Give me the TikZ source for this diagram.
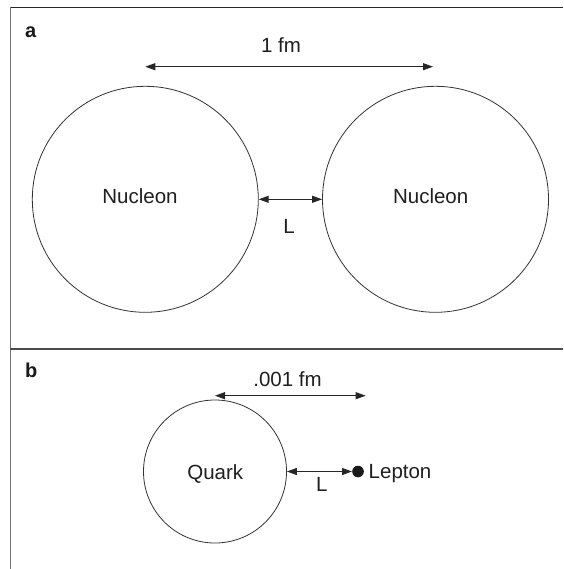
\documentclass[tikz,border=0pt]{standalone}
\usepackage{fontspec}
\setmainfont{Liberation Sans}
\usetikzlibrary{arrows.meta}
\begin{document}
\begin{tikzpicture}[x=1pt,y=-1pt,
  txt/.style={inner sep=0pt, text=black!88, font=\fontsize{20.5}{24}\selectfont},
  paneltag/.style={inner sep=0pt, text=black!90, font=\fontsize{20}{24}\selectfont\bfseries},
  ball/.style={circle, draw=black!80, line width=0.8pt, inner sep=0pt},
  dim/.style={draw=black!85, line width=1pt, {Triangle[length=10pt,width=7pt]}-{Triangle[length=10pt,width=7pt]}}
]
\useasboundingbox (0,0) rectangle (563,569);
\fill[white] (0,0) rectangle (563,569);
% frame
\coordinate (tl) at (10,7.3);
\coordinate (tr) at (563,7.3);
\coordinate (bl) at (10,569);
\coordinate (ml) at (10,349);
\coordinate (mr) at (563,349);
\draw[black!85, line width=1.3pt] (tl) -- (tr);
\draw[black!55, line width=1pt] (tl) -- (bl);
\draw[black!70, line width=1.2pt] (ml) -- (mr);
% panel tags
\node[paneltag, anchor=base west] (taga) at (25,37.3) {a};
\node[paneltag, anchor=base west] (tagb) at (25,377.7) {b};
% panel a
\node[ball, minimum size=226pt] (n1) at (145.3,199.3) {};
\node[ball, minimum size=226pt] (n2) at (435.5,199.3) {};
\node[txt, anchor=base] (n1t) at (140,204) {Nucleon};
\node[txt, anchor=base] (n2t) at (430.7,204) {Nucleon};
\coordinate (fa) at (145.3,66.7);
\coordinate (fb) at (433,66.7);
\draw[dim] (fa) -- (fb);
\node[txt, anchor=base] (fm) at (281,52.7) {1 fm};
\draw[dim] (n1.east) -- (n2.west);
\node[txt, anchor=base] (La) at (289,233.3) {L};
% panel b
\node[ball, minimum size=143pt] (q) at (215,471.5) {};
\node[txt, anchor=base] (qt) at (215.3,479.3) {Quark};
\node[circle, fill=black!90, minimum size=11.6pt, inner sep=0pt] (lep) at (358,471.5) {};
\node[txt, anchor=base west] (lept) at (368.5,478.3) {Lepton};
\draw[dim] (q.east) -- (lep.west);
\node[txt, anchor=base] (Lb) at (321.7,491) {L};
\coordinate (ga) at (215,395.7);
\coordinate (gb) at (365.7,395.7);
\draw[dim] (ga) -- (gb);
\node[txt, anchor=base] (gfm) at (287.5,386.7) {.001 fm};
\end{tikzpicture}
\end{document}
